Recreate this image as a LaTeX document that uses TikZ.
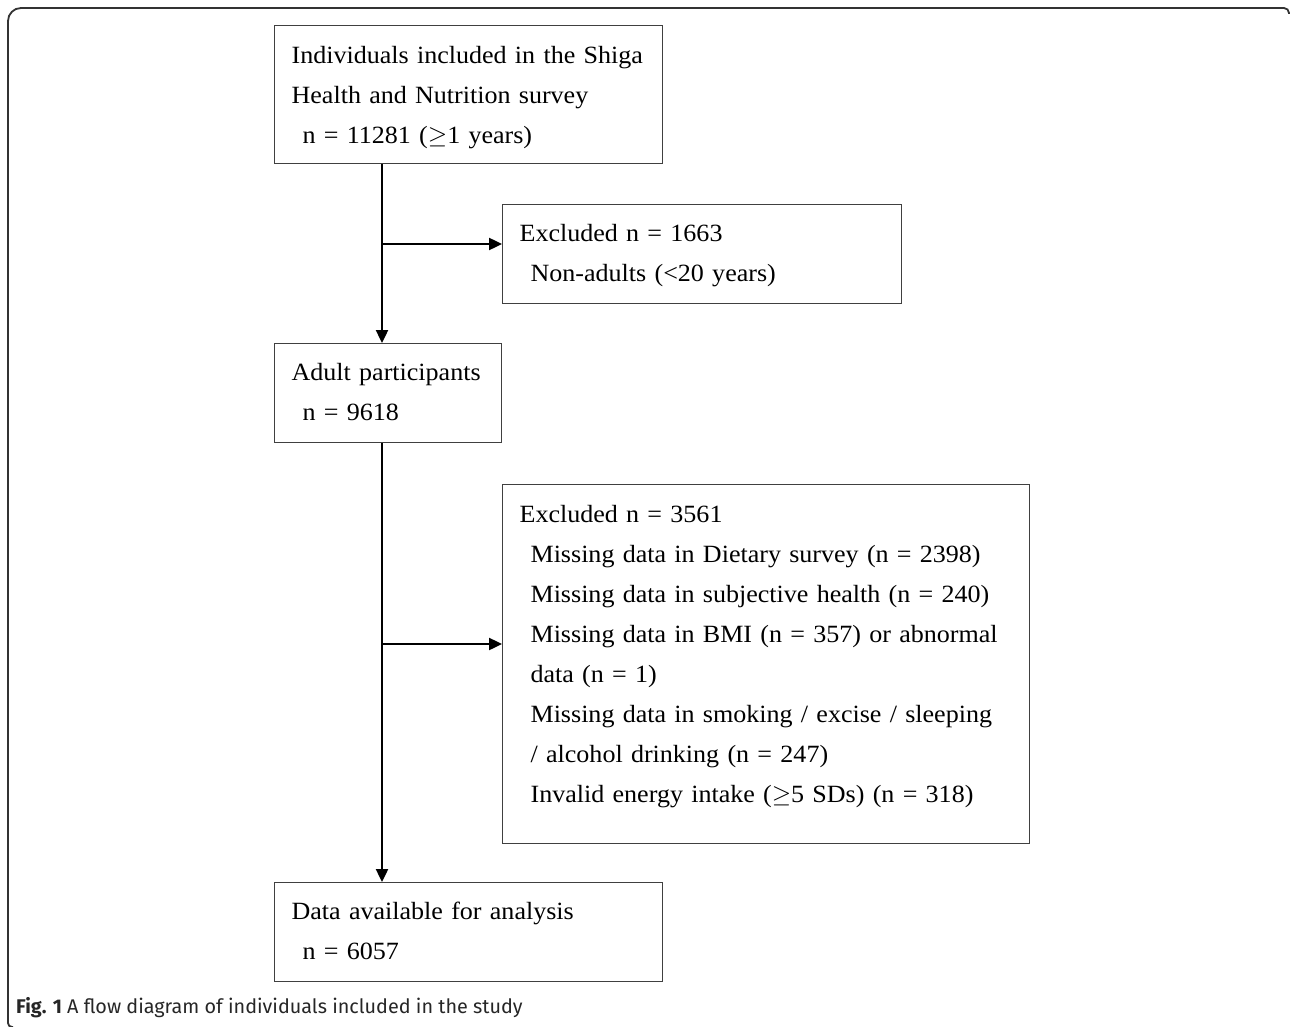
\documentclass[tikz,border=0pt]{standalone}
\usepackage{fontspec}
\setmainfont{Liberation Serif}[FakeStretch=1.05]
\newfontfamily\capfont{Fira Sans}
\usetikzlibrary{arrows.meta}
\begin{document}
\begin{tikzpicture}[x=1pt,y=-1pt,
  box/.style={draw=black!75, line width=1.2pt, inner xsep=17pt, inner ysep=0pt,
    align=left, anchor=north west, font=\fontsize{24.8}{40}\selectfont},
  flow/.style={line width=2.4pt, -{Triangle[length=13pt,width=12pt]}},
  frame/.style={draw=black!80, line width=1.8pt}]
\useasboundingbox (0,0) rectangle (1290,1027);
% frame
\draw[frame] (13,1027) [rounded corners=4pt] -- (8,1027) [rounded corners=13pt] -- (8,8) [rounded corners=5pt] -- (1289,8) -- (1289,14);
% boxes
\node[box, minimum width=388pt, minimum height=138pt, text width=354pt,
      text height=38pt, text depth=100pt] (inc) at (274,25)
  {\mbox{Individuals included in the Shiga}\\
   \mbox{Health and Nutrition survey}\\
   \mbox{\hspace*{11pt}n = 11281 ($\geq$1 years)}};
\node[box, minimum width=399pt, minimum height=99pt, text width=365pt,
      text height=37pt, text depth=62pt] (ex1) at (502,204)
  {\mbox{Excluded n = 1663}\\
   \mbox{\hspace*{11pt}Non-adults (<20 years)}};
\node[box, minimum width=227pt, minimum height=99pt, text width=193pt,
      text height=37pt, text depth=62pt] (adult) at (274,343)
  {\mbox{Adult participants}\\
   \mbox{\hspace*{11pt}n = 9618}};
\node[box, minimum width=527pt, minimum height=359pt, text width=493pt,
      text height=37.5pt, text depth=321.5pt] (ex2) at (502,484)
  {\mbox{Excluded n = 3561}\\
   \mbox{\hspace*{11pt}Missing data in Dietary survey (n = 2398)}\\
   \mbox{\hspace*{11pt}Missing data in subjective health (n = 240)}\\
   \mbox{\hspace*{11pt}Missing data in BMI (n = 357) or abnormal}\\
   \mbox{\hspace*{11pt}data (n = 1)}\\
   \mbox{\hspace*{11pt}Missing data in smoking / excise / sleeping}\\
   \mbox{\hspace*{11pt}/ alcohol drinking (n = 247)}\\
   \mbox{\hspace*{11pt}Invalid energy intake ($\geq$5 SDs) (n = 318)}};
\node[box, minimum width=388pt, minimum height=99pt, text width=354pt,
      text height=37pt, text depth=62pt] (final) at (274,882)
  {\mbox{Data available for analysis}\\
   \mbox{\hspace*{11pt}n = 6057}};
% connectors
\coordinate (j1) at (382,244);
\coordinate (j2) at (382,644);
\draw[flow] ([xshift=108pt]inc.south west) -- ([xshift=108pt]adult.north west);
\draw[flow] (j1) -- (j1 -| ex1.west);
\draw[flow] ([xshift=108pt]adult.south west) -- ([xshift=108pt]final.north west);
\draw[flow] (j2) -- (j2 -| ex2.west);
% caption
\node[anchor=west, inner sep=0pt, text=black!85, font=\capfont\fontsize{19.8}{22}\selectfont] (cap) at (16,1008)
  {\textbf{Fig. 1} A flow diagram of individuals included in the study};
\end{tikzpicture}
\end{document}
